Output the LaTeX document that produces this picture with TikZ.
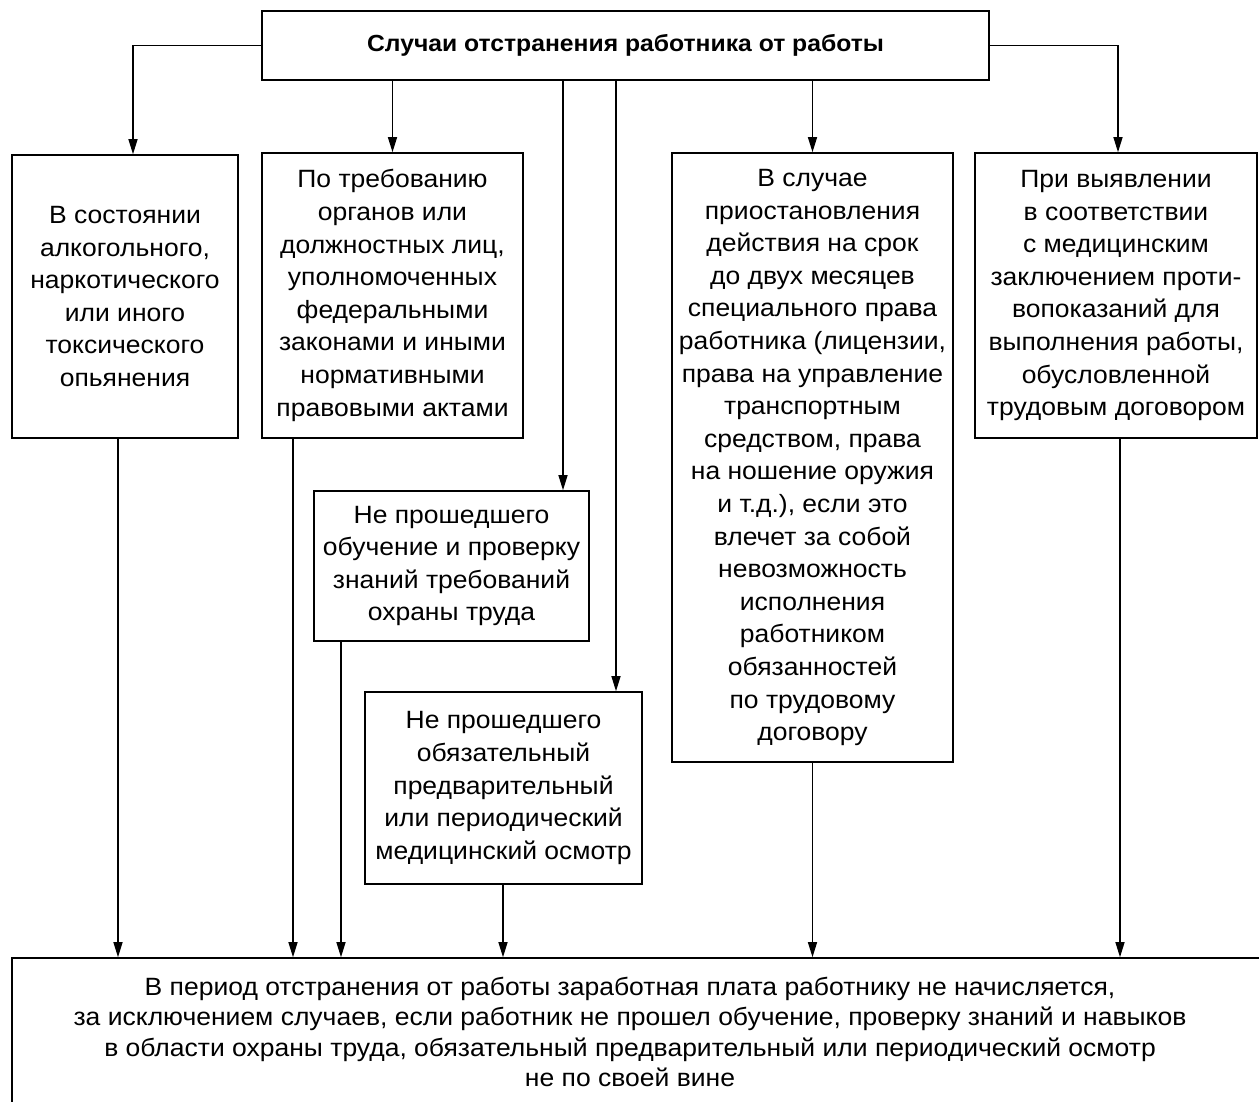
\documentclass[tikz,border=0pt]{standalone}
\usepackage{fontspec}
\setmainfont{Liberation Sans}[FakeStretch=1.06]
\usetikzlibrary{arrows.meta}
\begin{document}
\begin{tikzpicture}[x=1pt,y=-1pt,
  box/.style={draw,line width=1.6pt,inner sep=0pt,align=center,
    font=\fontsize{25}{32.6}\selectfont},
  arr/.style={line width=1.3pt,-{Triangle[width=9pt,length=15pt]}}]
\useasboundingbox (0,0) rectangle (1259,1102);
\node[box,minimum width=727,minimum height=69,font=\fontsize{23.3}{26}\selectfont\bfseries] (top) at (625.5,45.5) {Случаи отстранения работника от работы};
\node[box,minimum width=226,minimum height=283] (b1) at (125,296.5) {В состоянии\\алкогольного,\\наркотического\\или иного\\токсического\\опьянения};
\node[box,minimum width=261,minimum height=285] (b2) at (392.5,295.5) {По требованию\\органов или\\должностных лиц,\\уполномоченных\\федеральными\\законами и иными\\нормативными\\правовыми актами};
\node[box,minimum width=275,minimum height=150] (b3) at (451.5,566) {Не прошедшего\\обучение и проверку\\знаний требований\\охраны труда};
\node[box,minimum width=277,minimum height=192] (b4) at (503.5,788) {Не прошедшего\\обязательный\\предварительный\\или периодический\\медицинский осмотр};
\node[box,minimum width=281,minimum height=609] (b5) at (812.5,457.5) {В случае\\приостановления\\действия на срок\\до двух месяцев\\специального права\\работника (лицензии,\\права на управление\\транспортным\\средством, права\\на ношение оружия\\и т.д.), если это\\влечет за собой\\невозможность\\исполнения\\работником\\обязанностей\\по трудовому\\договору};
\node[box,minimum width=282,minimum height=285] (b6) at (1116,295.5) {При выявлении\\в соответствии\\с медицинским\\заключением проти-\\вопоказаний для\\выполнения работы,\\обусловленной\\трудовым договором};
\node[draw,line width=1.6pt,inner sep=0pt,minimum width=1258,minimum height=152] (bottom) at (641,1034) {};
\node[align=center,inner sep=0pt,font=\fontsize{25}{30.5}\selectfont] (btext) at (630,1032) {В период отстранения от работы заработная плата работнику не начисляется,\\за исключением случаев, если работник не прошел обучение, проверку знаний и навыков\\в области охраны труда, обязательный предварительный или периодический осмотр\\не по своей вине};
\coordinate (x1) at (133,0);
\coordinate (x2) at (392.5,0);
\coordinate (x3) at (563,0);
\coordinate (x4) at (616,0);
\coordinate (x5) at (812.5,0);
\coordinate (x6) at (1118,0);
\coordinate (y1) at (118,0);
\coordinate (y2) at (293,0);
\coordinate (y3) at (341,0);
\coordinate (y4) at (503,0);
\coordinate (y5) at (812.5,0);
\coordinate (y6) at (1120,0);
\draw[arr] (top.west) -| (b1.north -| x1);
\draw[arr] (top.south -| x2) -- (b2.north -| x2);
\draw[arr] (top.south -| x3) -- (b3.north -| x3);
\draw[arr] (top.south -| x4) -- (b4.north -| x4);
\draw[arr] (top.south -| x5) -- (b5.north -| x5);
\draw[arr] (top.east) -| (b6.north -| x6);
\draw[arr] (b1.south -| y1) -- (bottom.north -| y1);
\draw[arr] (b2.south -| y2) -- (bottom.north -| y2);
\draw[arr] (b3.south -| y3) -- (bottom.north -| y3);
\draw[arr] (b4.south -| y4) -- (bottom.north -| y4);
\draw[arr] (b5.south -| y5) -- (bottom.north -| y5);
\draw[arr] (b6.south -| y6) -- (bottom.north -| y6);
\end{tikzpicture}
\end{document}
